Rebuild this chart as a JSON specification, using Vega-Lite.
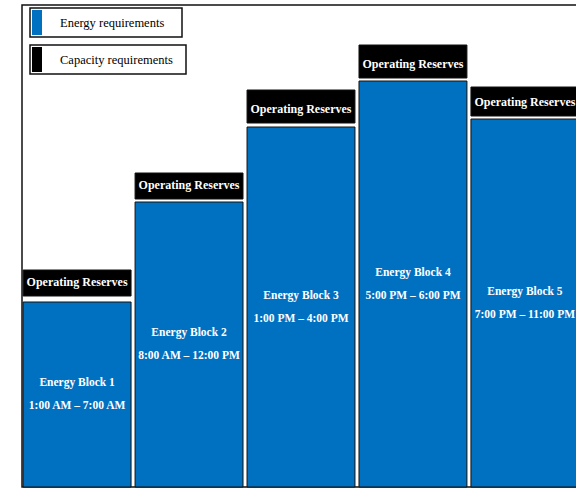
{
  "$schema": "https://vega.github.io/schema/vega-lite/v6.json",
  "width": 558,
  "height": 482,
  "autosize": "none",
  "padding": {"left": 22, "top": 5, "right": 0, "bottom": 2},
  "background": "white",
  "config": {
    "view": {"stroke": "#111", "strokeWidth": 1.5},
    "legend": {
      "orient": "none",
      "strokeColor": "#111",
      "strokeWidth": 1.5,
      "padding": 2,
      "labelFont": "Liberation Serif",
      "labelFontSize": 12.5,
      "labelColor": "#000",
      "labelOffset": 3,
      "symbolType": "M-1,-1H-0.2V1H-1Z",
      "symbolSize": 625,
      "symbolStrokeWidth": 0,
      "symbolOpacity": 1
    },
    "text": {"font": "Liberation Serif", "fontWeight": "bold", "color": "white", "lineBreak": "\n"}
  },
  "data": {
    "values": [
      {"block": "B1", "energy": "Energy requirements", "capacity": "Capacity requirements", "top": 185, "capLo": 191, "capHi": 217, "desc": "Energy Block 1\n1:00 AM – 7:00 AM"},
      {"block": "B2", "energy": "Energy requirements", "capacity": "Capacity requirements", "top": 285, "capLo": 288, "capHi": 314, "desc": "Energy Block 2\n8:00 AM – 12:00 PM"},
      {"block": "B3", "energy": "Energy requirements", "capacity": "Capacity requirements", "top": 360, "capLo": 364, "capHi": 397, "desc": "Energy Block 3\n1:00 PM – 4:00 PM"},
      {"block": "B4", "energy": "Energy requirements", "capacity": "Capacity requirements", "top": 406, "capLo": 409, "capHi": 442, "desc": "Energy Block 4\n5:00 PM – 6:00 PM"},
      {"block": "B5", "energy": "Energy requirements", "capacity": "Capacity requirements", "top": 368, "capLo": 371, "capHi": 400, "desc": "Energy Block 5\n7:00 PM – 11:00 PM"}
    ]
  },
  "encoding": {
    "x": {"field": "block", "type": "nominal", "sort": null, "axis": null,
          "scale": {"paddingInner": 0.036, "paddingOuter": 0.01}}
  },
  "layer": [
    {
      "mark": {"type": "bar", "stroke": "#111", "strokeWidth": 1},
      "encoding": {
        "y": {"field": "top", "type": "quantitative", "axis": null, "scale": {"domain": [0, 482], "nice": false, "zero": true}},
        "y2": {"datum": 0},
        "fill": {"field": "energy", "type": "nominal",
                 "scale": {"range": ["#0070C0"]},
                 "legend": {"title": "\u00a0", "titleOrient": "right", "titlePadding": 16, "legendX": 8, "legendY": 3}}
      }
    },
    {
      "mark": {"type": "bar", "stroke": "#111", "strokeWidth": 1},
      "encoding": {
        "y": {"field": "capLo", "type": "quantitative", "axis": null, "scale": {"domain": [0, 482], "nice": false}},
        "y2": {"field": "capHi"},
        "fill": {"field": "capacity", "type": "nominal",
                 "scale": {"range": ["#000000"]},
                 "legend": {"title": "\u00a0", "titleOrient": "right", "titlePadding": 11, "legendX": 8, "legendY": 40}}
      }
    },
    {
      "mark": {"type": "text", "fontSize": 12, "dy": -14, "baseline": "middle"},
      "encoding": {
        "y": {"field": "capLo", "type": "quantitative", "axis": null, "scale": {"domain": [0, 482], "nice": false}},
        "text": {"value": "Operating Reserves"}
      }
    },
    {
      "mark": {"type": "text", "fontSize": 11.5, "baseline": "middle", "lineHeight": 23, "dy": -11.5},
      "encoding": {
        "y": {"field": "top", "type": "quantitative", "axis": null, "scale": {"domain": [0, 964], "nice": false}},
        "text": {"field": "desc"}
      }
    }
  ],
  "resolve": {"scale": {"fill": "independent", "y": "independent"}, "legend": {"fill": "independent"}}
}
